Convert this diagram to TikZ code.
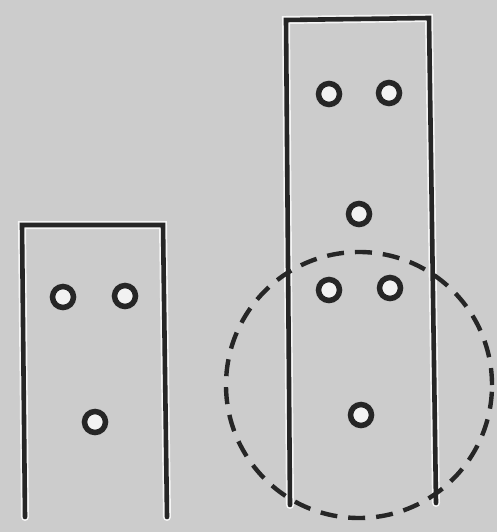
\documentclass[tikz,border=0pt]{standalone}
\begin{document}
\begin{tikzpicture}[x=1pt,y=-1pt,
  wall/.style={line width=4.6pt, black!85, line cap=round, line join=miter},
  halo/.style={line width=8pt, white!92!gray, line cap=round},
  hole/.style={circle, draw=black!85, line width=5.5pt, minimum size=21pt, inner sep=0pt, fill=white!90!gray},
  zone/.style={circle, draw=black!85, line width=4.4pt, dash pattern=on 17pt off 11pt, minimum size=266pt, inner sep=0pt}]
\fill[gray!40] (0,0) rectangle (497,532);
\useasboundingbox (0,0) rectangle (497,532);
% halos
\draw[halo] (25,517) -- (22,225) -- (163,225) -- (167,517);
\draw[halo] (290,505) -- (286,20) -- (429,18) -- (436,503);
% left plate
\draw[wall] (25,517) -- (22,225) -- (163,225) -- (167,517);
\node[hole] (l1) at (63,297) {};
\node[hole] (l2) at (125,296) {};
\node[hole] (l3) at (95,422) {};
% right plate
\draw[wall] (290,505) -- (286,20) -- (429,18) -- (436,503);
\node[hole] (r1) at (329,94) {};
\node[hole] (r2) at (389,93) {};
\node[hole] (r3) at (359,214) {};
\node[hole] (r4) at (329,290) {};
\node[hole] (r5) at (390,288) {};
\node[hole] (r6) at (361,415) {};
% dashed zone
\node[zone] (z) at (359,385) {};
\end{tikzpicture}
\end{document}
